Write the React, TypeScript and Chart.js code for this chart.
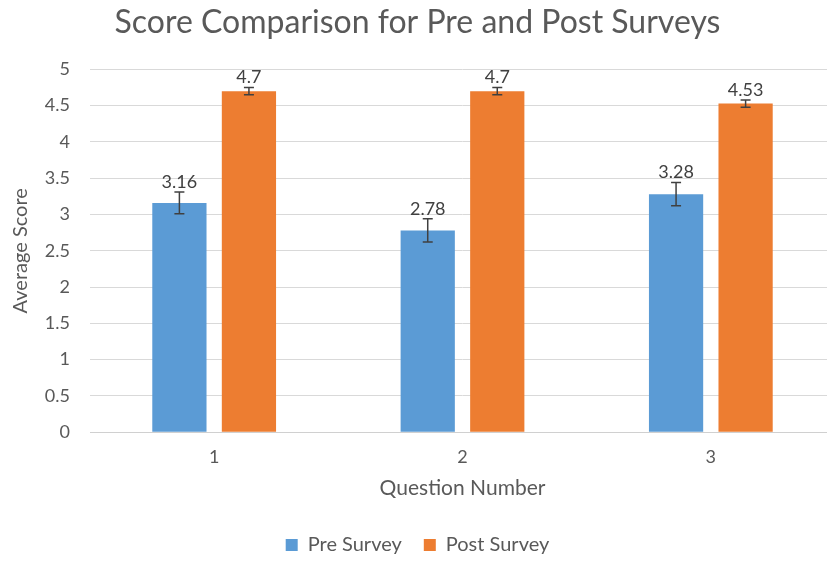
import React, { useEffect, useRef } from "react";
import { Chart, registerables } from "chart.js";

Chart.register(...registerables);

const categories = ["1", "2", "3"];
const preValues = [3.16, 2.78, 3.28];
const postValues = [4.7, 4.7, 4.53];
const preErrors = [0.15, 0.16, 0.16];
const postErrors = [0.05, 0.05, 0.05];
const preLabels = ["3.16", "2.78", "3.28"];
const postLabels = ["4.7", "4.7", "4.53"];

const FONT = "Lato, 'Open Sans', sans-serif";

const errorPlugin = {
  id: "errorBarsAndLabels",
  afterDatasetsDraw(chart: any) {
    const ctx = chart.ctx;
    const yScale = chart.scales.y;
    chart.data.datasets.forEach((ds: any, i: number) => {
      const meta = chart.getDatasetMeta(i);
      meta.data.forEach((el: any, j: number) => {
        const v = ds.data[j];
        const e = ds.errors[j];
        const x = el.x;
        const yTop = yScale.getPixelForValue(v + e);
        const yBot = yScale.getPixelForValue(v - e);
        ctx.save();
        ctx.strokeStyle = "#404040";
        ctx.lineWidth = 1.5;
        ctx.beginPath();
        ctx.moveTo(x, yTop);
        ctx.lineTo(x, yBot);
        ctx.moveTo(x - 5, yTop);
        ctx.lineTo(x + 5, yTop);
        ctx.moveTo(x - 5, yBot);
        ctx.lineTo(x + 5, yBot);
        ctx.stroke();
        ctx.fillStyle = "#404040";
        ctx.font = `18px ${FONT}`;
        ctx.textAlign = "center";
        ctx.textBaseline = "bottom";
        ctx.fillText(ds.valueLabels[j], x, yTop - 1);
        ctx.restore();
      });
    });
  },
};

export default function App() {
  const ref = useRef<HTMLCanvasElement>(null);
  useEffect(() => {
    if (!ref.current) return;
    const chart = new Chart(ref.current, {
      type: "bar",
      data: {
        labels: categories,
        datasets: [
          {
            label: "Pre Survey",
            data: preValues,
            backgroundColor: "#5B9BD5",
            errors: preErrors,
            valueLabels: preLabels,
            categoryPercentage: 0.56,
            barPercentage: 0.78,
          } as any,
          {
            label: "Post Survey",
            data: postValues,
            backgroundColor: "#ED7D31",
            errors: postErrors,
            valueLabels: postLabels,
            categoryPercentage: 0.56,
            barPercentage: 0.78,
          } as any,
        ],
      },
      options: {
        responsive: false,
        animation: false,
        layout: { padding: { top: 0, right: 5, left: 0, bottom: 0 } },
        plugins: {
          title: {
            display: true,
            text: "Score Comparison for Pre and Post Surveys",
            color: "#595959",
            font: { family: FONT, size: 32, weight: "normal" },
            padding: { top: 3, bottom: 28 },
          },
          legend: {
            position: "bottom",
            labels: {
              color: "#595959",
              font: { family: FONT, size: 20 },
              boxWidth: 12,
              boxHeight: 12,
              padding: 22,
            },
          },
          tooltip: { enabled: false },
        },
        scales: {
          x: {
            grid: { display: false },
            border: { display: true, color: "#d0d0d0" },
            ticks: { color: "#595959", font: { family: FONT, size: 18 }, padding: 6 },
            title: {
              display: true,
              text: "Question Number",
              color: "#595959",
              font: { family: FONT, size: 21 },
              padding: { top: 2, bottom: 12 },
            },
          },
          y: {
            min: 0,
            max: 5,
            grid: { color: "#d9d9d9", drawTicks: false },
            border: { display: false },
            afterFit: (scale: any) => {
              scale.width = 90;
            },
            ticks: {
              stepSize: 0.5,
              color: "#595959",
              font: { family: FONT, size: 18 },
              padding: 20,
              callback: (v: any) => String(v),
            },
            title: {
              display: true,
              text: "Average Score",
              color: "#595959",
              font: { family: FONT, size: 20 },
              padding: { top: 9, bottom: 4 },
            },
          },
        },
      },
      plugins: [errorPlugin],
    });
    return () => chart.destroy();
  }, []);
  return (
    <div style={{ position: "fixed", left: 0, top: 0, width: 827, height: 561, overflow: "hidden", background: "#fff" }}>
      <canvas ref={ref} width={840} height={565} style={{ display: "block" }} />
    </div>
  );
}
